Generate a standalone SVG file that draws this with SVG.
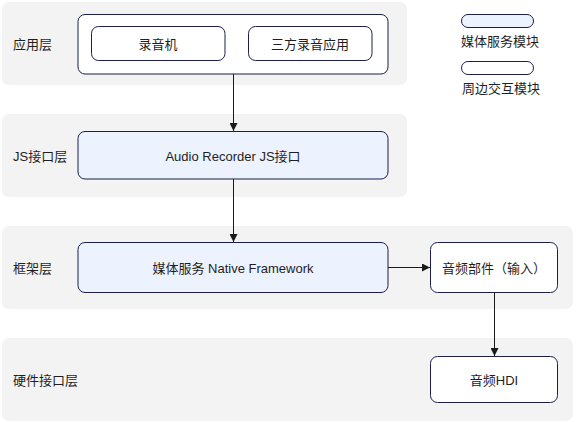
<svg xmlns="http://www.w3.org/2000/svg" width="588" height="422" viewBox="0 0 588 422">
<defs>
<marker id="arr" viewBox="0 0 10 10" refX="10" refY="5" markerWidth="8" markerHeight="8" markerUnits="userSpaceOnUse" orient="auto">
<path d="M0,0 L10,5 L0,10 z" fill="#1a1a1a"/>
</marker>
<style>
.band{fill:#f3f3f3;}
.box{fill:#ffffff;stroke:#1b1f4a;stroke-width:1;}
.blue{fill:#ecf2fe;}
text{font-family:"Liberation Sans","Noto Sans CJK SC",sans-serif;font-size:13px;fill:#1f1f1f;dominant-baseline:central;}
.c{text-anchor:middle;}
.conn{stroke:#1a1a1a;stroke-width:1;fill:none;marker-end:url(#arr);}
</style>
</defs>
<g id="bands">
<rect class="band" x="2" y="2" width="405" height="83" rx="7"/>
<rect class="band" x="2" y="114" width="405" height="83" rx="7"/>
<rect class="band" x="2" y="226" width="571" height="83" rx="7"/>
<rect class="band" x="2" y="338" width="571" height="83" rx="7"/>
<text x="13" y="44.5">应用层</text>
<text x="13" y="156.5">JS接口层</text>
<text x="13" y="268.5">框架层</text>
<text x="13" y="380.5">硬件接口层</text>
</g>
<g id="app-layer">
<rect class="box" x="78" y="14.5" width="310" height="59.5" rx="7"/>
</g>
<g id="recorder">
<rect class="box" x="91.5" y="26.5" width="133.5" height="34" rx="7"/>
<text class="c" x="158" y="44.5">录音机</text>
</g>
<g id="third-party">
<rect class="box" x="248.5" y="26.5" width="123.5" height="34" rx="7"/>
<text class="c" x="310" y="44.5">三方录音应用</text>
</g>
<g id="js-api">
<rect class="box blue" x="78" y="131.5" width="310" height="47.5" rx="7"/>
<text class="c" x="233" y="156.5">Audio Recorder JS接口</text>
</g>
<g id="native-fw">
<rect class="box blue" x="78" y="242.5" width="310" height="50" rx="7"/>
<text class="c" x="233" y="268">媒体服务 Native Framework</text>
</g>
<g id="audio-input">
<rect class="box" x="430.5" y="242.5" width="127" height="50" rx="7"/>
<text class="c" x="494" y="268">音频部件（输入）</text>
</g>
<g id="audio-hdi">
<rect class="box" x="430.5" y="356.5" width="127" height="46" rx="7"/>
<text class="c" x="494" y="380.5">音频HDI</text>
</g>
<g id="legend">
<rect class="box blue" x="461.5" y="14.5" width="72" height="13" rx="6.5"/>
<text class="c" x="500" y="41.5">媒体服务模块</text>
<rect class="box" x="461.5" y="61.5" width="72" height="13" rx="6.5"/>
<text class="c" x="501" y="88">周边交互模块</text>
</g>
<g id="connectors">
<path class="conn" d="M233.5,74 L233.5,131"/>
<path class="conn" d="M233.5,179 L233.5,242"/>
<path class="conn" d="M388,267.5 L430,267.5"/>
<path class="conn" d="M494.5,292.5 L494.5,356"/>
</g>
</svg>
